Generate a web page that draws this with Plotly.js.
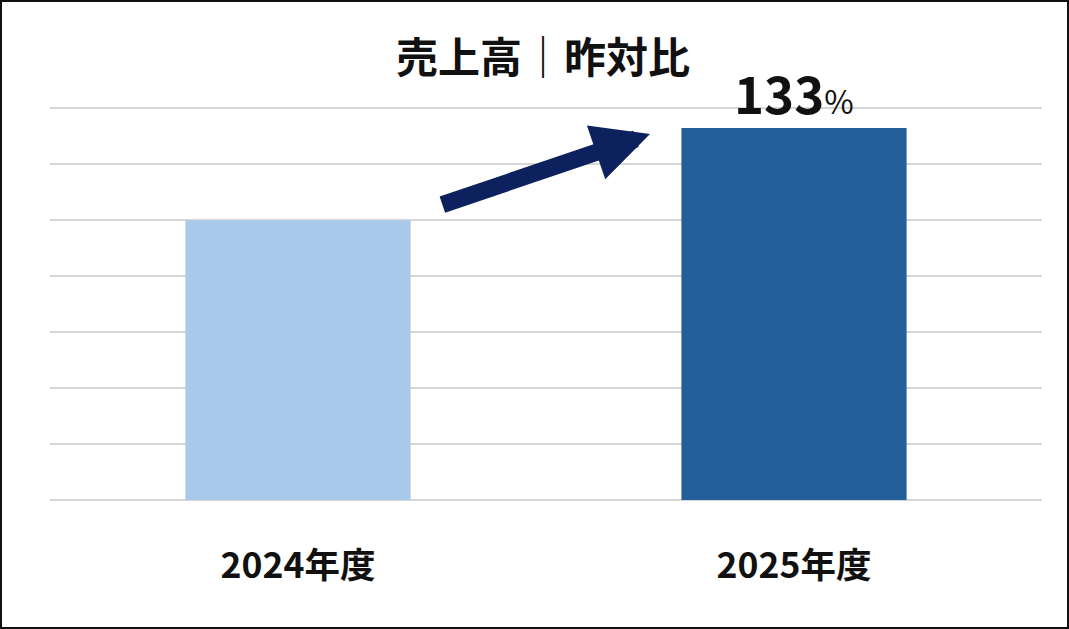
<!DOCTYPE html>
<html>
<head>
<meta charset="utf-8">
<script src="https://cdn.plot.ly/plotly-3.0.1.min.js"></script>
<style>
html,body{margin:0;padding:0;background:#fff;}
#wrap{width:1065px;height:625px;border:2px solid #111;}
#chart{width:1065px;height:625px;}
</style>
</head>
<body>
<div id="wrap"><div id="chart"></div></div>
<script>
const categories = ['2024年度', '2025年度'];
const values = [5, 6.65];
const barColors = ['#A9C9EA', '#225F9B'];
const growthLabel = '133';
const growthUnit = '%';
const chartTitle = '売上高｜昨対比';

const FONT = '"Noto Sans CJK JP", "Noto Sans", sans-serif';

const trace = {
  type: 'bar',
  x: categories,
  y: values,
  marker: {color: barColors, line: {width: 0}},
  hoverinfo: 'none'
};

const layout = {
  width: 1065,
  height: 625,
  margin: {l: 48, r: 25, t: 103, b: 127},
  paper_bgcolor: '#fff',
  plot_bgcolor: '#fff',
  bargap: 0.546,
  showlegend: false,
  font: {family: FONT, color: '#111'},
  title: {
    text: '<b>' + chartTitle + '</b>',
    font: {family: FONT, size: 42, color: '#111'},
    xref: 'paper', x: 0.497, xanchor: 'center',
    yref: 'container', y: 1 - 56/625, yanchor: 'middle'
  },
  xaxis: {
    type: 'category',
    range: [-0.5, 1.5],
    showgrid: false,
    zeroline: false,
    showline: false,
    ticks: '',
    ticklabelstandoff: 41,
    tickfont: {family: FONT, size: 35.5, color: '#111', weight: 'bold'}
  },
  yaxis: {
    range: [0, 7.06],
    dtick: 1,
    showticklabels: false,
    showgrid: true,
    gridcolor: '#D6D6D6',
    gridwidth: 2,
    zeroline: true,
    zerolinecolor: '#D6D6D6',
    zerolinewidth: 2,
    showline: false,
    ticks: ''
  },
  annotations: [
    {
      x: categories[1], y: values[1],
      xref: 'x', yref: 'y',
      text: '<b>' + growthLabel + '</b><span style="font-size:32px">' + growthUnit + '</span>',
      showarrow: false,
      xanchor: 'center', yanchor: 'bottom',
      yshift: -3,
      font: {family: FONT, size: 51, color: '#111'}
    },
    {
      x: 0.7097, y: 6.54, xref: 'x', yref: 'y',
      ax: 0.288, ay: 5.27, axref: 'x', ayref: 'y',
      text: '',
      showarrow: true,
      arrowhead: 2,
      arrowwidth: 17,
      arrowsize: 0.67,
      arrowcolor: '#0C215E',
      standoff: 0
    }
  ]
};

Plotly.newPlot('chart', [trace], layout, {displayModeBar: false, staticPlot: true});
</script>
</body>
</html>
